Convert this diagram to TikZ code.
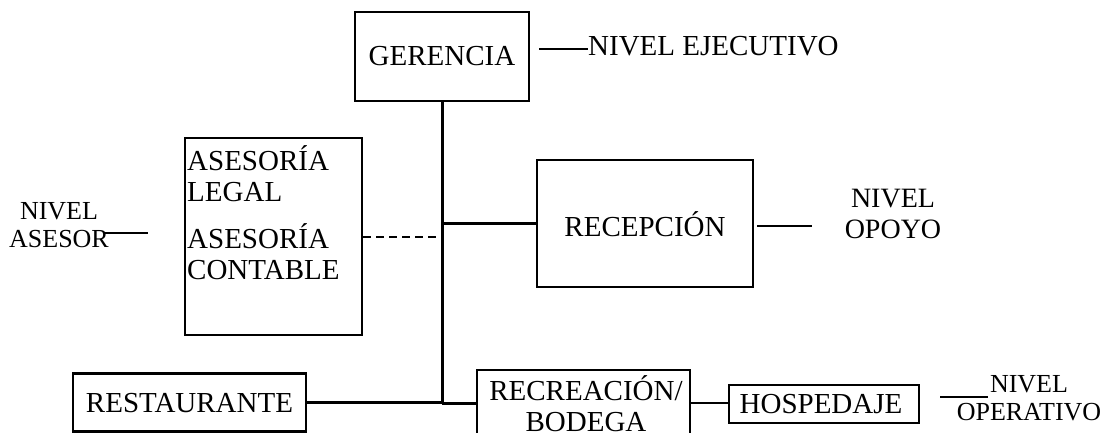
\documentclass[tikz,border=0pt]{standalone}
\usepackage{fontspec}
\setmainfont{Liberation Serif}
\begin{document}
\begin{tikzpicture}[x=1pt,y=-1pt,
  box/.style={draw=black,line width=2.6pt,rectangle,inner sep=0pt},
  txt/.style={inner sep=0pt,font=\fontsize{29}{31}\selectfont,align=center},
  lvl/.style={inner sep=0pt,align=center},
  conn/.style={line width=3pt},
  thinline/.style={line width=1.3pt},
  dashline/.style={line width=2pt,dash pattern=on 8pt off 5pt}]
\useasboundingbox (0,0) rectangle (1108,433);
\clip (0,0) rectangle (1108,433);
% boxes
\node[box,minimum width=174pt,minimum height=89pt] (ger) at (442,56.5) {};
\node[txt] (gert) at (442,56) {GERENCIA};
\node[box,minimum width=177pt,minimum height=197pt] (ase) at (273.5,236.5) {};
\node[txt,anchor=west,align=left] (ase1) at (187,174) {ASESORÍA\\LEGAL};
\node[txt,anchor=west,align=left] (ase2) at (187,251.5) {ASESORÍA\\CONTABLE};
\node[box,minimum width=216pt,minimum height=127pt] (rec) at (645,223.5) {};
\node[txt] (rect) at (645,224) {RECEPCIÓN};
\node[box,minimum width=233pt,minimum height=58pt] (rest) at (189.5,402.5) {};
\node[txt] (restt) at (189.5,403) {RESTAURANTE};
\node[box,minimum width=213pt,minimum height=90pt] (rcb) at (583.5,415) {};
\node[txt] (rcbt) at (586,403.5) {RECREACIÓN/\\BODEGA};
\node[box,minimum width=190pt,minimum height=38pt] (hos) at (824,404) {};
\node[txt] (host) at (821,404) {HOSPEDAJE};
% level labels
\node[lvl,anchor=west,font=\fontsize{29}{31}\selectfont] (nej) at (588,46) {NIVEL EJECUTIVO};
\node[lvl,font=\fontsize{28}{31}\selectfont] (nop) at (893,214) {NIVEL\\OPOYO};
\node[lvl,font=\fontsize{26}{28}\selectfont] (nas) at (59,225.5) {NIVEL\\ASESOR};
\node[lvl,font=\fontsize{26}{28.5}\selectfont] (nopv) at (1029,398) {NIVEL\\OPERATIVO};
% connectors
\coordinate (j) at (442,403);
\draw[conn] (ger.south) -- (j);
\draw[conn] (rest.east) -- (rest.east -| j);
\draw[conn] (j) -- (j -| rcb.west);
\draw[line width=2.2pt] (ger.south |- rec.west) -- (rec.west);
\draw[dashline] (ase.east) -- (ase.east -| j);
\draw[line width=2.4pt] (hos.west |- 0,403) -- (rcb.east |- 0,403);
% level ticks
\coordinate (e1) at (539,49); \coordinate (e2) at (588,49);
\draw[thinline] (e1) -- (e2);
\coordinate (o1) at (757,226); \coordinate (o2) at (812,226);
\draw[thinline] (o1) -- (o2);
\coordinate (a1) at (104,233); \coordinate (a2) at (148,233);
\draw[thinline] (a1) -- (a2);
\coordinate (p1) at (940,397); \coordinate (p2) at (988,397);
\draw[thinline] (p1) -- (p2);
\end{tikzpicture}
\end{document}
